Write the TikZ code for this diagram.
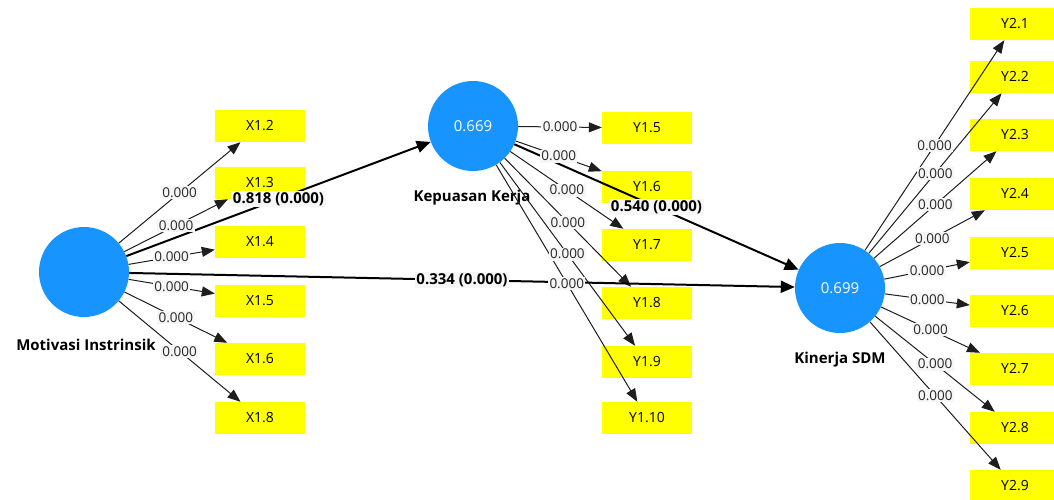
\documentclass[tikz,border=0pt]{standalone}
\usepackage{fontspec}
\setmainfont{Open Sans}
\usetikzlibrary{arrows.meta}
\definecolor{lvblue}{RGB}{24,148,255}
\definecolor{indyellow}{RGB}{255,255,0}
\definecolor{linegray}{RGB}{30,30,30}
\definecolor{lblbg}{RGB}{246,246,246}
\tikzset{
 lv/.style={circle, fill=lvblue, minimum size=90pt, inner sep=0pt, text=white, font=\fontsize{15}{17}\selectfont},
 ind/.style={rectangle, fill=indyellow, minimum width=90pt, minimum height=32pt, inner sep=0pt, font=\fontsize{14}{16}\selectfont},
 ldg/.style={draw=linegray, line width=1pt, -{Triangle[length=13pt,width=10pt]}},
 pth/.style={draw=black, line width=2pt, -{Triangle[length=14pt,width=12pt]}},
 wl/.style={fill=lblbg, inner sep=1.5pt, font=\fontsize{13.5}{15}\selectfont, text=black!85},
 pl/.style={fill=lblbg, inner sep=1.5pt, font=\bfseries\fontsize{15}{17}\selectfont},
 lvname/.style={font=\bfseries\fontsize{15}{17}\selectfont}
}
\begin{document}
\begin{tikzpicture}[x=1pt,y=-1pt]
\clip (0,0) rectangle (1054,500);
\fill[white] (0,0) rectangle (1054,500);
% indicator boxes
\foreach \n/\t/\yy in {x12/X1.2/126, x13/X1.3/183, x14/X1.4/242, x15/X1.5/301, x16/X1.6/359, x18/X1.8/418}
  \node[ind] (\n) at (260,\yy) {\t};
\foreach \n/\t/\yy in {y15/Y1.5/128, y16/Y1.6/187, y17/Y1.7/245, y18/Y1.8/303, y19/Y1.9/362, y110/Y1.10/418}
  \node[ind] (\n) at (647,\yy) {\t};
\foreach \n/\t/\yy in {z1/Y2.1/24, z2/Y2.2/77, z3/Y2.3/135, z4/Y2.4/194, z5/Y2.5/253, z6/Y2.6/311, z7/Y2.7/369, z8/Y2.8/428, z9/Y2.9/486}
  \node[ind] (\n) at (1015,\yy) {\t};
% latent variables
\node[lv] (mi) at (84,272) {};
\node[lv] (kk) at (473,126) {0.669};
\node[lv] (ks) at (840,288) {0.699};
\node[lvname] (min) at (86,345) {Motivasi Instrinsik};
\node[lvname] (kkn) at (472,198) {Kepuasan Kerja};
\node[lvname] (ksn) at (840,360) {Kinerja SDM};
% loadings
\foreach \n in {x12,x13,x14,x15,x16,x18}
  \draw[ldg] (mi) -- coordinate[pos=.5] (l\n) (\n);
\foreach \n in {y15,y16,y17,y18,y19,y110}
  \draw[ldg] (kk) -- coordinate[pos=.5] (l\n) (\n);
\foreach \n in {z1,z2,z3,z4,z5,z6,z7,z8,z9}
  \draw[ldg] (ks) -- coordinate[pos=.5] (l\n) (\n);
% structural paths
\draw[pth] (mi) -- coordinate[pos=.5] (p1) (kk);
\draw[pth] (kk) -- coordinate[pos=.5] (p2) (ks);
\draw[pth] (mi) -- coordinate[pos=.5] (p3) (ks);
% labels
\foreach \n in {x12,x13,x14,x15,x16,x18,y15,y16,y17,y18,y19,y110,z1,z2,z3,z4,z5,z6,z7,z8,z9}
  \node[wl] at (l\n) {0.000};
\node[pl] at (p1) {0.818 (0.000)};
\node[pl] at (p2) {0.540 (0.000)};
\node[pl] at (p3) {0.334 (0.000)};
\end{tikzpicture}
\end{document}
